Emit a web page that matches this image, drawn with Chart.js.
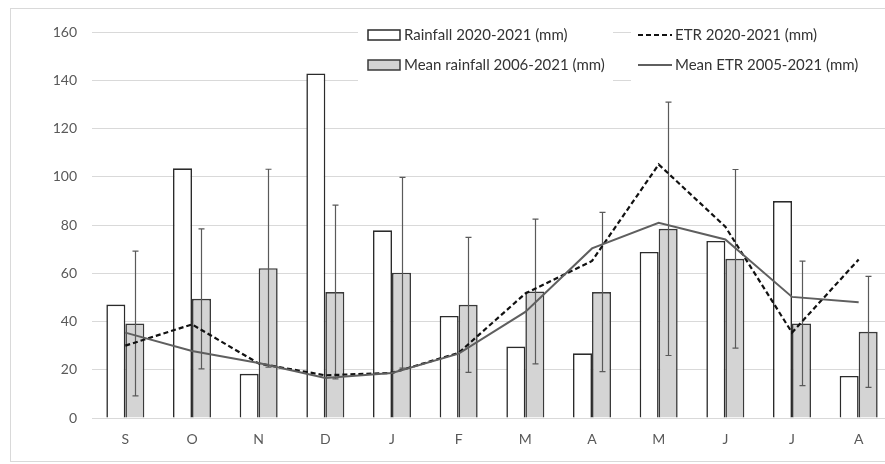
<!DOCTYPE html>
<html>
<head>
<meta charset="utf-8">
<script src="https://cdn.jsdelivr.net/npm/chart.js@4.4.1/dist/chart.umd.min.js"></script>
<style>
    html, body { margin: 0; padding: 0; background: #fff; }
    #wrap { width: 885px; height: 464px; overflow: hidden; position: relative; }
    #box { width: 900px; height: 464px; }
</style>
</head>
<body>
<div id="wrap"><div id="box"><canvas id="grafico"></canvas></div></div>
<script>
// dados
const meses = ['S', 'O', 'N', 'D', 'J', 'F', 'M', 'A', 'M', 'J', 'J', 'A'];
const chuva = [47, 103.5, 18.3, 142.8, 77.8, 42.3, 29.6, 26.8, 68.8, 73.4, 89.9, 17.4];
const chuvaMedia = [39.2, 49.4, 62.1, 52.2, 60.2, 46.9, 52.4, 52.2, 78.4, 66, 39.2, 35.7];
const chuvaMediaDp = [30, 29, 41, 36, 39.5, 28, 30, 33, 52.5, 37, 25.8, 23];
const etr = [30, 38.8, 22.6, 17.7, 18.7, 27, 51.6, 65.1, 105.1, 79.3, 35.4, 65.7];
const etrMedia = [35.4, 27.8, 22.8, 16.6, 18.7, 26.7, 44, 70.3, 80.9, 74, 50.2, 48];
const yTicks = [0, 20, 40, 60, 80, 100, 120, 140, 160];

const fonte = "Lato, 'Open Sans', sans-serif";

/* =========================
   BARRAS DE ERRO
========================= */
const barrasErro = {
    id: 'barrasErro',
    afterDatasetDraw(chart, args) {
        if (args.index !== 1) return;
        const ctx = chart.ctx;
        const y = chart.scales.y;
        ctx.save();
        ctx.strokeStyle = '#5a5a5a';
        ctx.lineWidth = 1.2;
        args.meta.data.forEach((bar, i) => {
            const v = chuvaMedia[i], dp = chuvaMediaDp[i];
            const yTop = y.getPixelForValue(v + dp);
            const yBot = y.getPixelForValue(v - dp);
            const x = Math.round(bar.x) + 0.5;
            ctx.beginPath();
            ctx.moveTo(x, yTop); ctx.lineTo(x, yBot);
            ctx.moveTo(x - 3, yTop); ctx.lineTo(x + 3, yTop);
            ctx.moveTo(x - 3, yBot); ctx.lineTo(x + 3, yBot);
            ctx.stroke();
        });
        ctx.restore();
    }
};

/* =========================
   MOLDURA + LEGENDA
========================= */
const moldura = {
    id: 'moldura',
    beforeDraw(chart) {
        const ctx = chart.ctx;
        ctx.save();
        ctx.fillStyle = '#fff';
        ctx.fillRect(0, 0, chart.width, chart.height);
        ctx.strokeStyle = '#d9d9d9';
        ctx.lineWidth = 1;
        ctx.strokeRect(10.5, 8.5, 1000, 453);
        ctx.restore();
    }
};

const legenda = {
    id: 'legenda',
    afterDraw(chart) {
        const ctx = chart.ctx;
        const ds = chart.data.datasets;
        ctx.save();
        ctx.fillStyle = '#fff';
        ctx.fillRect(358, 18, 255, 72);
        ctx.fillRect(631, 18, 260, 72);
        ctx.font = '15px ' + fonte;
        ctx.textBaseline = 'middle';
        ctx.textAlign = 'left';

        // coluna 1: barras
        [[ds[0], 35], [ds[1], 65]].forEach(([d, yy]) => {
            ctx.fillStyle = d.backgroundColor;
            ctx.fillRect(368, yy - 5, 32, 10);
            ctx.strokeStyle = d.borderColor;
            ctx.lineWidth = 1.5;
            ctx.strokeRect(368, yy - 5, 32, 10);
            ctx.fillStyle = '#333333';
            ctx.fillText(d.label, 404, yy);
        });

        // coluna 2: linhas
        [[ds[2], 35], [ds[3], 65]].forEach(([d, yy]) => {
            ctx.strokeStyle = d.borderColor;
            ctx.lineWidth = d.borderWidth;
            ctx.setLineDash(d.borderDash || []);
            ctx.beginPath();
            ctx.moveTo(638, yy); ctx.lineTo(672, yy);
            ctx.stroke();
            ctx.setLineDash([]);
            ctx.fillStyle = '#333333';
            ctx.fillText(d.label, 675, yy);
        });
        ctx.restore();
    }
};

new Chart(document.getElementById('grafico'), {
    type: 'bar',
    data: {
        labels: meses,
        datasets: [{
            label: 'Rainfall 2020-2021 (mm)',
            data: chuva,
            backgroundColor: '#ffffff',
            borderColor: '#2b2b2b',
            borderWidth: 1.6,
            categoryPercentage: 0.57,
            barPercentage: 1,
            order: 2
        }, {
            label: 'Mean rainfall 2006-2021 (mm)',
            data: chuvaMedia,
            backgroundColor: '#d4d4d4',
            borderColor: '#3a3a3a',
            borderWidth: 1.6,
            categoryPercentage: 0.57,
            barPercentage: 1,
            order: 2
        }, {
            type: 'line',
            label: 'ETR 2020-2021 (mm)',
            data: etr,
            borderColor: '#111111',
            borderWidth: 2.2,
            borderDash: [5, 3],
            pointRadius: 0,
            tension: 0,
            order: 1
        }, {
            type: 'line',
            label: 'Mean ETR 2005-2021 (mm)',
            data: etrMedia,
            borderColor: '#5f5f5f',
            borderWidth: 2,
            pointRadius: 0,
            tension: 0,
            order: 0
        }]
    },
    options: {
        responsive: true,
        maintainAspectRatio: false,
        animation: false,
        layout: { padding: { top: 32, right: 8, bottom: 12, left: 0 } },
        plugins: {
            legend: { display: false },
            tooltip: { enabled: false }
        },
        scales: {
            x: {
                grid: { display: false, drawTicks: false },
                border: { display: false },
                ticks: { color: '#595959', font: { family: fonte, size: 14 }, padding: 13 },
                afterFit(s) { s.height = 34; }
            },
            y: {
                min: yTicks[0],
                max: yTicks[yTicks.length - 1],
                afterBuildTicks(s) { s.ticks = yTicks.map(v => ({ value: v })); },
                grid: { color: '#d9d9d9', drawTicks: false, lineWidth: 1 },
                border: { display: false },
                ticks: { color: '#595959', font: { family: fonte, size: 14 }, padding: 15 },
                afterFit(s) { s.width = 92; }
            }
        }
    },
    plugins: [moldura, barrasErro, legenda]
});
</script>
</body>
</html>
